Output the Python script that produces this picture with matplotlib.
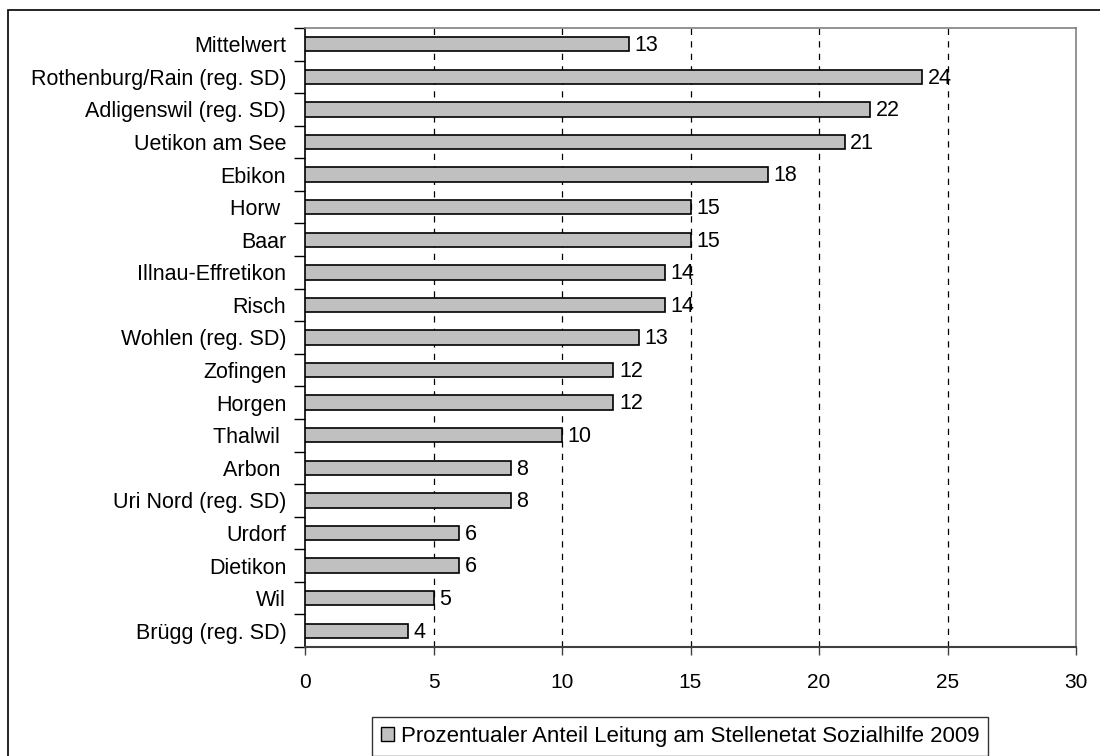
import matplotlib
matplotlib.use("Agg")
import matplotlib.pyplot as plt
from matplotlib.patches import Rectangle, Patch

plt.rcParams['font.family'] = ['Liberation Sans', 'DejaVu Sans']

categories = [
    "Mittelwert", "Rothenburg/Rain (reg. SD)", "Adligenswil (reg. SD)",
    "Uetikon am See", "Ebikon", "Horw ", "Baar", "Illnau-Effretikon", "Risch",
    "Wohlen (reg. SD)", "Zofingen", "Horgen", "Thalwil ", "Arbon ",
    "Uri Nord (reg. SD)", "Urdorf", "Dietikon", "Wil", "Brügg (reg. SD)",
]
values = [12.6, 24, 22, 21, 18, 15, 15, 14, 14, 13, 12, 12, 10, 8, 8, 6, 6, 5, 4]
x_ticks = [0, 5, 10, 15, 20, 25, 30]
series_name = "Prozentualer Anteil Leitung am Stellenetat Sozialhilfe 2009"

W, H = 1100, 756
fig = plt.figure(figsize=(W / 100, H / 100), dpi=100)
fig.patch.set_facecolor("white")

# outer frame of the chart object
fig.patches.append(Rectangle((8 / W, -0.05), 1.2, 1 - 10 / H + 0.05,
                             transform=fig.transFigure, fill=False,
                             edgecolor="black", linewidth=1.2, zorder=0))

left, right, top, bottom = 305, 1076, 28, 647
ax = fig.add_axes([left / W, 1 - bottom / H, (right - left) / W, (bottom - top) / H])

n = len(categories)
ypos = list(range(n))
bar_h = 0.44
ax.barh(ypos, values, height=bar_h, color="#c0c0c0", edgecolor="black",
        linewidth=1.2, zorder=3)

for y, v in zip(ypos, values):
    ax.text(v + 0.22, y + 0.04, f"{v:.0f}", va="center", ha="left",
            fontsize=15.5, zorder=4)

ax.set_xlim(0, 30)
ax.set_ylim(n - 0.5, -0.5)
ax.set_xticks(x_ticks)
ax.set_xticklabels([str(t) for t in x_ticks], fontsize=15)
ax.tick_params(axis="x", direction="out", length=6, width=1, color="#404040", pad=13)

# category labels centred on bars, ticks at category boundaries
ax.set_yticks(ypos)
ax.set_yticklabels(categories, fontsize=15.5)
ax.tick_params(axis="y", which="major", length=0, pad=13.5)
ax.set_yticks([i - 0.5 for i in range(n + 1)], minor=True)
ax.tick_params(axis="y", which="minor", direction="out", length=8, width=1, color="black")

for xv in x_ticks[1:-1]:
    ax.axvline(xv, color="black", linestyle=(0, (5, 5)), linewidth=0.9, zorder=1)

ax.spines["left"].set_color("black")
ax.spines["left"].set_linewidth(1.2)
ax.spines["bottom"].set_color("#404040")
ax.spines["bottom"].set_linewidth(1.5)
ax.spines["top"].set_color("#808080")
ax.spines["right"].set_color("#808080")
ax.spines["top"].set_linewidth(1.2)
ax.spines["right"].set_linewidth(1.2)

handle = Patch(facecolor="#c0c0c0", edgecolor="black", linewidth=1.0)
leg = fig.legend([handle], [series_name], loc="upper left",
                 bbox_to_anchor=(372 / W, 1 - 717 / H), fontsize=16,
                 frameon=True, fancybox=False, edgecolor="black",
                 handlelength=0.6, handleheight=0.6, handletextpad=0.3,
                 borderpad=0.4, borderaxespad=0)
leg.get_frame().set_linewidth(1.0)

fig.savefig("out.png", dpi=100)
